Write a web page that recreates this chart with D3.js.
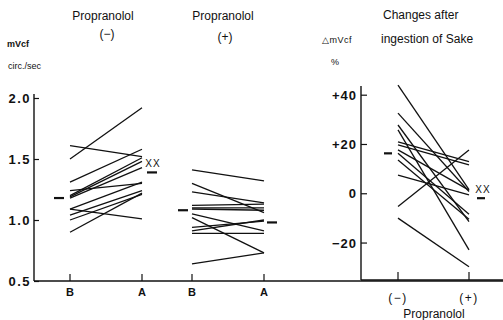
<!DOCTYPE html>
<html><head><meta charset="utf-8">
<script src="https://cdn.jsdelivr.net/npm/d3@7"></script>
<style>body{margin:0;background:#fff}svg{display:block}text{font-family:"Liberation Sans",Arial,sans-serif;fill:#111}</style>
</head><body>
<script>
// Left panel: mVcf (circ./sec) before (B) and after (A) sake
const groups = ["Propranolol (−)", "Propranolol (+)"];
const xLabels = ["B", "A", "B", "A"];
const yTicksL = [0.5, 1.0, 1.5, 2.0];
const noPropB = [1.50, 1.61, 1.31, 1.20, 1.19, 1.18, 1.24, 1.09, 1.04, 1.09, 1.00, 0.90];
const noPropA = [1.92, 1.52, 1.58, 1.51, 1.48, 1.43, 1.30, 1.31, 1.24, 1.01, 1.21, 1.22];
const propB   = [1.41, 1.30, 1.23, 1.12, 1.10, 1.09, 1.05, 1.02, 0.94, 0.91, 0.89, 0.64];
const propA   = [1.32, 1.06, 1.14, 1.13, 1.10, 1.08, 0.91, 0.73, 0.99, 1.00, 0.89, 0.73];
const meansL  = [1.18, 1.39, 1.08, 0.98];
// Right panel: % change of mVcf after sake
const xLabelsR = ["(−)", "(+)"];
const yTicksR = [-20, 0, 20, 40];
const yTickLabelsR = ["−20", "0", "+20", "+40"];
const chgMinus = [43.9, 32.5, 27.7, 25.7, 20.9, 19.6, 17.6, 16.2, 13.5, 7.4, -5.4, -10.1];
const chgPlus  = [1.5, 0.7, -11.5, -23.0, 12.8, 11.5, 1.3, -8.5, -10.5, -0.7, 17.6, -29.8];
const meansR = [16.2, -2.0];

const svg = d3.select("body").append("svg").attr("width", 503).attr("height", 320);

// ---------- left panel ----------
const yL = d3.scaleLinear().domain([0.5, 2.0]).range([281, 98]);
const xL = d3.scalePoint().domain(d3.range(4)).range([70, 264]);
const xPos = [70, 142, 192, 264];
const xLs = d3.scaleOrdinal().domain(d3.range(4)).range(xPos);

const g = svg.append("g");
// y axis line
g.append("line").attr("x1", 34).attr("x2", 34).attr("y1", 94).attr("y2", yL(0.5)).attr("stroke", "#111").attr("stroke-width", 1.4);
g.append("line").attr("x1", 34).attr("x2", 503).attr("y1", yL(0.5)).attr("y2", yL(0.5)).attr("stroke", "#111").attr("stroke-width", 1.4);
const yAxL = d3.axisRight(yL).tickValues(yTicksL).tickSize(5).tickFormat("");
g.append("g").attr("transform", "translate(34,0)").call(yAxL).call(s => { s.select(".domain").remove(); s.selectAll("line").attr("stroke", "#111").attr("stroke-width", 1.2); });
g.selectAll(".ytl").data(yTicksL).join("text").attr("class", "ytl")
  .attr("x", 31).attr("y", d => yL(d) + 5).attr("text-anchor", "end")
  .style("font-size", "13px").style("letter-spacing", "1.5px").style("font-weight", "bold")
  .text(d => d3.format(".1f")(d).replace(".", ". ").replace(". ", "."));
// x ticks
g.selectAll(".xt").data(xLabels).join("line").attr("class", "xt")
  .attr("x1", (d, i) => xLs(i)).attr("x2", (d, i) => xLs(i))
  .attr("y1", yL(0.5)).attr("y2", yL(0.5) - 7).attr("stroke", "#111").attr("stroke-width", 1.2);
g.selectAll(".xtl").data(xLabels).join("text").attr("class", "xtl")
  .attr("x", (d, i) => xLs(i)).attr("y", 296).attr("text-anchor", "middle")
  .style("font-size", "11px").style("font-weight", "bold").text(d => d);

function pairs(b, a, i0) {
  return b.map((v, i) => ({x1: xLs(i0), y1: yL(v), x2: xLs(i0 + 1), y2: yL(a[i])}));
}
const segs = pairs(noPropB, noPropA, 0).concat(pairs(propB, propA, 2));
g.selectAll(".seg").data(segs).join("line").attr("class", "seg")
  .attr("x1", d => d.x1).attr("y1", d => d.y1).attr("x2", d => d.x2).attr("y2", d => d.y2)
  .attr("stroke", "#111").attr("stroke-width", 1.3);
// mean dashes
const meanOffL = [-11, 10, -9, 8];
g.selectAll(".mn").data(meansL).join("line").attr("class", "mn")
  .attr("x1", (d, i) => xLs(i) + meanOffL[i] - 5).attr("x2", (d, i) => xLs(i) + meanOffL[i] + 5)
  .attr("y1", d => yL(d)).attr("y2", d => yL(d)).attr("stroke", "#111").attr("stroke-width", 2.2);
g.append("text").attr("x", 153).attr("y", yL(meansL[1]) - 5).attr("text-anchor", "middle")
  .style("font-size", "10px").style("letter-spacing", "1px").text("XX");

// titles
g.append("text").attr("x", 103).attr("y", 20).attr("text-anchor", "middle").style("font-size", "12px").text("Propranolol");
g.append("text").attr("x", 107).attr("y", 38).attr("text-anchor", "middle").style("font-size", "12px").text("(−)");
g.append("text").attr("x", 223).attr("y", 20).attr("text-anchor", "middle").style("font-size", "12px").text("Propranolol");
g.append("text").attr("x", 225).attr("y", 41).attr("text-anchor", "middle").style("font-size", "12px").text("(+)");
g.append("text").attr("x", 7).attr("y", 47).style("font-size", "9px").style("font-weight", "bold").text("mVcf");
g.append("text").attr("x", 8).attr("y", 69).style("font-size", "9px").text("circ./sec");

// ---------- right panel ----------
const yR = d3.scaleLinear().domain([-35.2, 40]).range([280, 94.7]);
const xR = d3.scalePoint().domain(xLabelsR).range([398, 469]);
const r = svg.append("g");
r.append("line").attr("x1", 361).attr("x2", 361).attr("y1", 86).attr("y2", 280).attr("stroke", "#111").attr("stroke-width", 1.4);
r.append("line").attr("x1", 361).attr("x2", 503).attr("y1", 280).attr("y2", 280).attr("stroke", "#111").attr("stroke-width", 1.4);
r.append("g").attr("transform", "translate(361,0)")
  .call(d3.axisRight(yR).tickValues(yTicksR).tickSize(6).tickFormat(""))
  .call(s => { s.select(".domain").remove(); s.selectAll("line").attr("stroke", "#111").attr("stroke-width", 1.2); });
r.selectAll(".ytr").data(yTicksR).join("text").attr("class", "ytr")
  .attr("x", 357).attr("y", d => yR(d) + 5).attr("text-anchor", "end")
  .style("font-size", "13px").style("font-weight", "bold").style("letter-spacing", "1px")
  .text((d, i) => yTickLabelsR[i]);
r.selectAll(".xtr").data(xLabelsR).join("line").attr("class", "xtr")
  .attr("x1", d => xR(d)).attr("x2", d => xR(d)).attr("y1", 280).attr("y2", 272).attr("stroke", "#111").attr("stroke-width", 1.2);
r.selectAll(".xtlr").data(xLabelsR).join("text").attr("class", "xtlr")
  .attr("x", d => xR(d)).attr("y", 302).attr("text-anchor", "middle")
  .style("font-size", "12px").style("letter-spacing", "1.5px").text(d => d);
r.append("text").attr("x", 434).attr("y", 318).attr("text-anchor", "middle").style("font-size", "12px").text("Propranolol");
r.selectAll(".segr").data(chgMinus).join("line").attr("class", "segr")
  .attr("x1", xR("(−)")).attr("x2", xR("(+)"))
  .attr("y1", d => yR(d)).attr("y2", (d, i) => yR(chgPlus[i]))
  .attr("stroke", "#111").attr("stroke-width", 1.3);
const meanOffR = [-10, 12];
r.selectAll(".mnr").data(meansR).join("line").attr("class", "mnr")
  .attr("x1", (d, i) => xR(xLabelsR[i]) + meanOffR[i] - 4).attr("x2", (d, i) => xR(xLabelsR[i]) + meanOffR[i] + 4)
  .attr("y1", d => yR(d)).attr("y2", d => yR(d)).attr("stroke", "#111").attr("stroke-width", 2.2);
r.append("text").attr("x", 483).attr("y", yR(meansR[1]) - 5).attr("text-anchor", "middle")
  .style("font-size", "10px").style("letter-spacing", "1px").text("XX");
r.append("text").attr("x", 383).attr("y", 19).style("font-size", "12px").text("Changes after");
r.append("text").attr("x", 381).attr("y", 43).style("font-size", "12px").text("ingestion of Sake");
r.append("text").attr("x", 322).attr("y", 43).style("font-size", "9px").style("letter-spacing", "0.5px").text("△mVcf");
r.append("text").attr("x", 331).attr("y", 65).style("font-size", "9px").text("%");
</script>
</body></html>
